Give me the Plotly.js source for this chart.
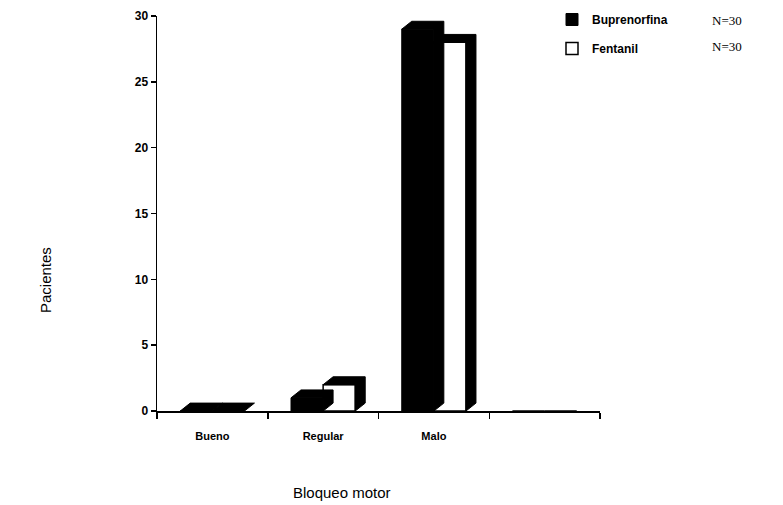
<!DOCTYPE html>
<html>
<head>
<meta charset="utf-8">
<script src="https://cdn.plot.ly/plotly-3.0.1.min.js"></script>
<style>html,body{margin:0;padding:0;background:#fff;}#chart{width:783px;height:505px;}</style>
</head>
<body>
<div id="chart"></div>
<script>
// Data
const categories = ["Bueno", "Regular", "Malo", ""];
const buprenorfina = [0, 1, 29, 0];
const fentanil = [0, 2, 28, 0];
const seriesNames = ["Buprenorfina", "Fentanil"];
const nLabels = ["N=30", "N=30"];
const yTicks = [0, 5, 10, 15, 20, 25, 30];

// geometry (style)
const barW = 0.29, dx = 0.09, dy = 0.6;
const xs = categories.map((c, i) => i);

function depthPolys(vals, off) {
  const px = [], py = [];
  vals.forEach((v, i) => {
    if (categories[i] === "") return;
    const x0 = i + off, x1 = x0 + barW;
    px.push(x0, x0 + dx, x1 + dx, x1 + dx, x1, x1, x0, null);
    py.push(v, v + dy, v + dy, dy, 0, v, v, null);
  });
  return {x: px, y: py};
}
const dB = depthPolys(buprenorfina, -barW);
const dF = depthPolys(fentanil, 0);

const traces = [
  {type: 'bar', x: xs, y: buprenorfina, name: seriesNames[0], width: barW, offset: -barW,
   marker: {color: '#000', line: {color: '#000', width: 1}}, legendgroup: 'a'},
  {type: 'scatter', mode: 'lines', x: dB.x, y: dB.y, fill: 'toself', fillcolor: '#000',
   line: {color: '#000', width: 1}, showlegend: false, hoverinfo: 'skip'},
  {type: 'scatter', mode: 'lines', x: dF.x, y: dF.y, fill: 'toself', fillcolor: '#000',
   line: {color: '#000', width: 1}, showlegend: false, hoverinfo: 'skip'},
  {type: 'bar', x: xs, y: fentanil, name: seriesNames[1], width: barW, offset: 0,
   marker: {color: '#fff', line: {color: '#000', width: 1.5}}, legendgroup: 'b'}
];

const L = 157, R = 600, T = 16, B = 411;
const px2x = p => (p - L) / (R - L);
const px2y = p => (B - p) / (B - T);

const layout = {
  width: 783, height: 505,
  margin: {l: L, r: 783 - R, t: T, b: 505 - B, autoexpand: false},
  paper_bgcolor: '#fff', plot_bgcolor: '#fff',
  barmode: 'overlay',
  font: {family: 'Liberation Sans, Arial, sans-serif', color: '#000'},
  xaxis: {
    range: [-0.5, 3.5], tickvals: xs.slice(0, 3), ticktext: categories.slice(0, 3),
    ticks: '', showgrid: false, zeroline: false, showline: true, linewidth: 2, linecolor: '#000',
    tickfont: {size: 11, weight: 'bold'}, ticklabelstandoff: 14,
    minor: {tick0: -0.5, dtick: 1, ticks: 'outside', ticklen: 6, tickwidth: 1.5, tickcolor: '#000', showgrid: false},
    fixedrange: true
  },
  yaxis: {
    range: [0, 30], tickvals: yTicks, ticks: 'outside', ticklen: 5, tickwidth: 1.5, tickcolor: '#000',
    showgrid: false, zeroline: false, showline: true, linewidth: 1.5, linecolor: '#000',
    tickfont: {size: 12, weight: 'bold'}, fixedrange: true
  },
  showlegend: true,
  legend: {x: px2x(552), y: px2y(5), xanchor: 'left', yanchor: 'top', traceorder: 'grouped',
    tracegroupgap: 10, font: {size: 12, weight: 'bold'}, bgcolor: 'rgba(0,0,0,0)'},
  annotations: [
    {text: 'Pacientes', textangle: -90, xref: 'paper', yref: 'paper', x: px2x(45), y: px2y(280),
     xanchor: 'center', yanchor: 'middle', showarrow: false, font: {size: 15}},
    {text: 'Bloqueo motor', xref: 'paper', yref: 'paper', x: px2x(342), y: px2y(492),
     xanchor: 'center', yanchor: 'middle', showarrow: false, font: {size: 15}},
    {text: nLabels[0], xref: 'paper', yref: 'paper', x: px2x(727), y: px2y(20),
     xanchor: 'center', yanchor: 'middle', showarrow: false, font: {size: 13, family: 'Liberation Serif, serif'}},
    {text: nLabels[1], xref: 'paper', yref: 'paper', x: px2x(727), y: px2y(47),
     xanchor: 'center', yanchor: 'middle', showarrow: false, font: {size: 13, family: 'Liberation Serif, serif'}}
  ]
};

Plotly.newPlot('chart', traces, layout, {displayModeBar: false, staticPlot: true});
</script>
</body>
</html>
